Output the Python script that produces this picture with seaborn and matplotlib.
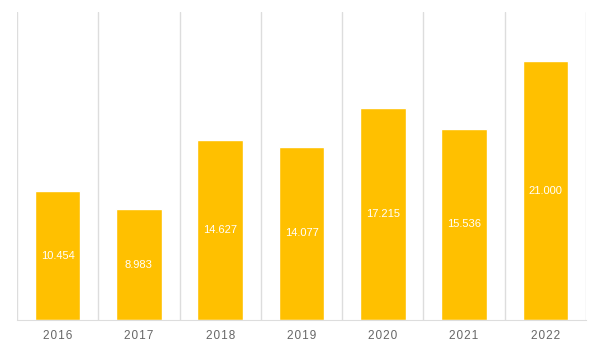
import matplotlib
matplotlib.use("Agg")
import matplotlib.pyplot as plt
import pandas as pd
import seaborn as sns

years = ["2016", "2017", "2018", "2019", "2020", "2021", "2022"]
values = [10.454, 8.983, 14.627, 14.077, 17.215, 15.536, 21.000]
value_labels = ["10.454", "8.983", "14.627", "14.077", "17.215", "15.536", "21.000"]

df = pd.DataFrame({"year": years, "value": values})

sns.set_style("white")
plt.rcParams['font.family'] = ['Liberation Sans', 'DejaVu Sans']

fig = plt.figure(figsize=(6, 3.59), dpi=100)
ax = fig.add_axes([0.0283, 0.1086, 0.9483, 0.858])

sns.barplot(data=df, x="year", y="value", color="#FFC000", saturation=1,
            width=0.56, ax=ax)

# white value labels in the middle of each bar
for i, (v, lab) in enumerate(zip(values, value_labels)):
    ax.text(i, v / 2, lab, ha="center", va="center", color="white", fontsize=8)

ax.set_ylim(0, 25)
ax.set_xlim(-0.5, len(years) - 0.5)
ax.set_yticks([])
ax.set_xlabel("")
ax.set_ylabel("")

# spaced-out year labels, like the original
ax.set_xticks(range(len(years)))
ax.set_xticklabels(["\u200a".join(y) for y in years])

# vertical separators between categories
ax.set_xticks([i - 0.5 for i in range(len(years) + 1)], minor=True)
ax.grid(which="minor", axis="x", color="#dddddd", linewidth=1)
ax.set_axisbelow(True)
ax.tick_params(axis="x", which="both", length=0)
ax.tick_params(axis="x", which="major", pad=7, labelsize=8.5, labelcolor="#666666")

for side in ["top", "right", "left"]:
    ax.spines[side].set_visible(False)
ax.spines["bottom"].set_color("#dddddd")

fig.savefig("out.png", dpi=100)
